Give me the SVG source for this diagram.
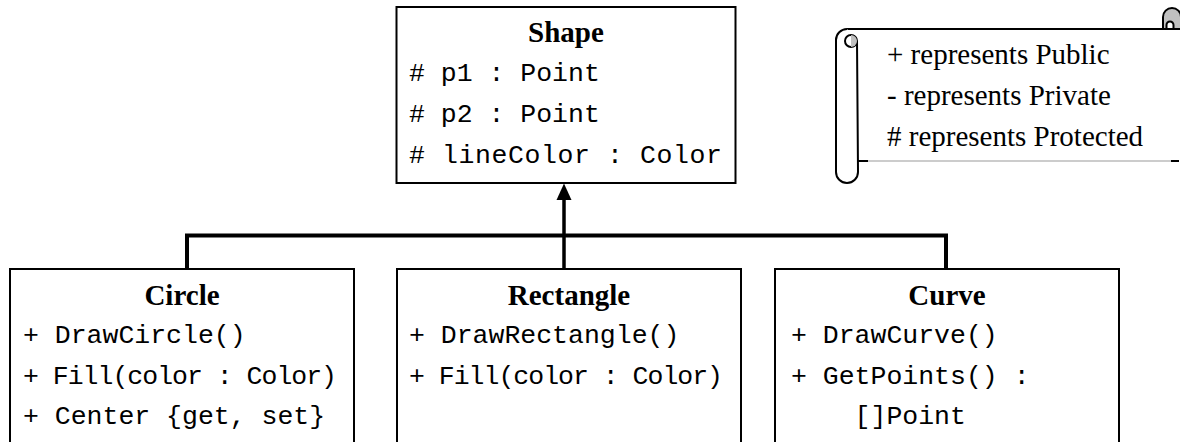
<svg xmlns="http://www.w3.org/2000/svg" width="1180" height="442" viewBox="0 0 1180 442">
  <style>
    .box { fill: #ffffff; stroke: #000000; stroke-width: 2; }
    .title { font-family: "Liberation Serif", "Times New Roman", serif; font-weight: bold; font-size: 29px; text-anchor: middle; fill: #000000; }
    .member { font-family: "Liberation Mono", "Courier New", monospace; font-size: 26.5px; fill: #000000; }
    .legend { font-family: "Liberation Serif", "Times New Roman", serif; font-size: 29px; fill: #000000; }
    .wire { fill: none; stroke: #000000; stroke-width: 4; }
    .scroll { fill: #ffffff; stroke: #000000; stroke-width: 2; }
    .curl { fill: #c0c0c0; stroke: #000000; stroke-width: 2; }
  </style>

  <!-- inheritance connectors -->
  <g id="connectors">
    <polyline class="wire" points="187,269 187,235.5 946,235.5 946,269"/>
    <line x1="564" y1="269" x2="564" y2="198" stroke="#000000" stroke-width="3.5"/>
    <path d="M564,183.5 L571.5,200 L556.5,200 Z" fill="#000000"/>
  </g>

  <!-- base class -->
  <g id="shape">
    <rect class="box" x="396.5" y="7" width="339" height="176"/>
    <text class="title" x="566" y="42">Shape</text>
    <text class="member" x="409" y="81"># p1 : Point</text>
    <text class="member" x="409" y="122"># p2 : Point</text>
    <text class="member" x="409" y="162.5" textLength="313" lengthAdjust="spacing"># lineColor : Color</text>
  </g>

  <!-- derived classes -->
  <g id="circle">
    <rect class="box" x="10" y="269" width="344" height="190"/>
    <text class="title" x="182" y="305">Circle</text>
    <text class="member" x="23" y="343">+ DrawCircle()</text>
    <text class="member" x="23" y="384" textLength="314" lengthAdjust="spacing">+ Fill(color : Color)</text>
    <text class="member" x="23" y="424">+ Center {get, set}</text>
  </g>

  <g id="rectangle">
    <rect class="box" x="397" y="269" width="344" height="190"/>
    <text class="title" x="569" y="305">Rectangle</text>
    <text class="member" x="409" y="343">+ DrawRectangle()</text>
    <text class="member" x="409" y="384" textLength="314" lengthAdjust="spacing">+ Fill(color : Color)</text>
  </g>

  <g id="curve">
    <rect class="box" x="775" y="269" width="344" height="190"/>
    <text class="title" x="947" y="305">Curve</text>
    <text class="member" x="791" y="343">+ DrawCurve()</text>
    <text class="member" x="791" y="384">+ GetPoints() :</text>
    <text class="member" x="854.6" y="424">[]Point</text>
  </g>

  <!-- visibility legend on a scroll -->
  <g id="legend">
    <line x1="847" y1="29" x2="1181" y2="29" stroke="#000000" stroke-width="2"/>
    <line x1="858" y1="161" x2="1172" y2="161" stroke="#9a9a9a" stroke-width="1.2"/>
    <line x1="857" y1="161" x2="868" y2="161" stroke="#000000" stroke-width="2"/>
    <line x1="1171" y1="161" x2="1179" y2="161" stroke="#000000" stroke-width="2"/>
    <path class="scroll" d="M847,29 A11,11 0 0 0 836,40 L836,172 A11,11 0 0 0 858,172 L857,41"/>
    <circle cx="851" cy="41" r="6" fill="#ffffff" stroke="#000000" stroke-width="2"/>
    <path d="M851,35 A6,6 0 0 1 851,47 Z" fill="#c0c0c0"/>
    <path class="curl" d="M1163,29 L1163,17 A9,9 0 0 1 1181,17 L1181,29 L1173.5,29 L1173.5,25 A3.5,3.5 0 0 0 1166.5,25 L1166.5,29 Z"/>
    <text class="legend" x="887" y="64">+ represents Public</text>
    <text class="legend" x="887" y="105">- represents Private</text>
    <text class="legend" x="887" y="146"># represents Protected</text>
  </g>
</svg>
